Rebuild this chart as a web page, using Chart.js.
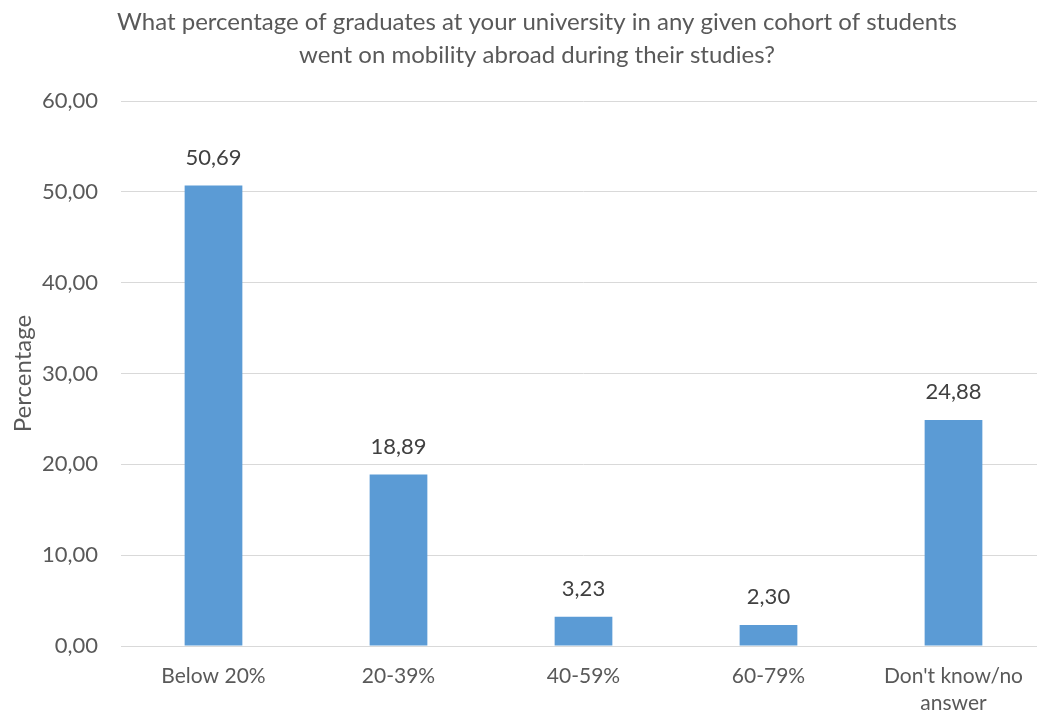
<!DOCTYPE html>
<html>
<head>
<meta charset="utf-8">
<script src="https://cdn.jsdelivr.net/npm/chart.js@4.4.1/dist/chart.umd.min.js"></script>
<style>
  html, body { margin: 0; padding: 0; background: #ffffff; overflow: hidden; }
  #wrap { width: 1037px; height: 715px; overflow: hidden; position: relative; }
  #chart { position: absolute; left: 0; top: 0; }
</style>
</head>
<body>
<div id="wrap"><canvas id="chart" width="1074" height="715"></canvas></div>
<script>
// Survey answers: share of graduates per cohort who went abroad
const categories = ['Below 20%', '20-39%', '40-59%', '60-79%', ["Don't know/no", 'answer']];
const percentages = [50.69, 18.89, 3.23, 2.30, 24.88];
const yTicks = [0, 10, 20, 30, 40, 50, 60];
const titleLines = [
  'What percentage of graduates at your university in any given cohort of students',
  'went on mobility abroad during their studies?'
];
const yAxisTitle = 'Percentage';

const FONT = 'Lato, "Open Sans", sans-serif';
const fmt = v => v.toFixed(2).replace('.', ',');

// Two-line heading centred on the whole canvas
const heading = {
  id: 'heading',
  afterDraw(chart) {
    const ctx = chart.ctx;
    ctx.save();
    ctx.font = '24px ' + FONT;
    ctx.fillStyle = '#595959';
    ctx.textAlign = 'center';
    ctx.textBaseline = 'middle';
    titleLines.forEach((line, i) => ctx.fillText(line, chart.width / 2, 22 + i * 33));
    ctx.restore();
  }
};

// Writes each bar's value above it
const valueLabels = {
  id: 'valueLabels',
  afterDatasetsDraw(chart) {
    const ctx = chart.ctx;
    const meta = chart.getDatasetMeta(0);
    ctx.save();
    ctx.font = '22px ' + FONT;
    ctx.fillStyle = '#404040';
    ctx.textAlign = 'center';
    ctx.textBaseline = 'middle';
    meta.data.forEach((bar, i) => {
      ctx.fillText(fmt(chart.data.datasets[0].data[i]), bar.x, bar.y - 28);
    });
    ctx.restore();
  }
};

new Chart(document.getElementById('chart'), {
  type: 'bar',
  data: {
    labels: categories,
    datasets: [{
      data: percentages,
      backgroundColor: '#5B9BD5',
      borderWidth: 0,
      categoryPercentage: 1,
      barPercentage: 0.312
    }]
  },
  options: {
    responsive: false,
    animation: false,
    devicePixelRatio: 1,
    layout: { padding: { top: 101, right: 28, bottom: 0, left: 0 } },
    plugins: {
      legend: { display: false },
      tooltip: { enabled: false },
      title: { display: false }
    },
    scales: {
      x: {
        grid: { display: false, drawTicks: false },
        border: { display: true, color: '#D9D9D9', width: 1 },
        ticks: {
          color: '#595959',
          font: { family: FONT, size: 21, lineHeight: 1.29 },
          padding: 17,
          maxRotation: 0,
          autoSkip: false
        },
        afterFit(scale) { scale.height = 69; }
      },
      y: {
        min: 0,
        max: 60,
        afterBuildTicks(scale) { scale.ticks = yTicks.map(v => ({ value: v })); },
        grid: { color: '#D9D9D9', lineWidth: 1, drawTicks: false },
        border: { display: false },
        ticks: {
          color: '#595959',
          font: { family: FONT, size: 22 },
          padding: 23,
          callback: v => fmt(v)
        },
        title: {
          display: true,
          text: yAxisTitle,
          color: '#595959',
          font: { family: FONT, size: 24, lineHeight: 1.2 },
          padding: { top: 8.5, bottom: 0 }
        },
        afterFit(scale) { scale.width = 121; }
      }
    }
  },
  plugins: [valueLabels, heading]
});
</script>
</body>
</html>
